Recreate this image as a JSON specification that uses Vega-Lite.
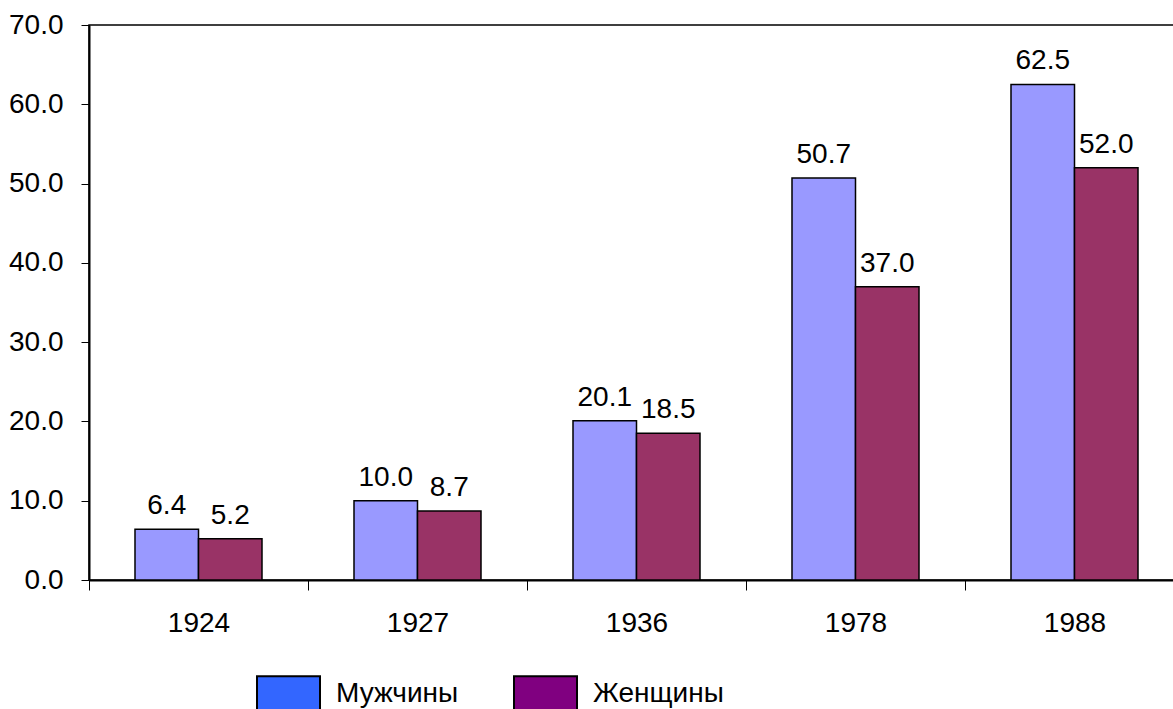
{
  "$schema": "https://vega.github.io/schema/vega-lite/v6.json",
  "width": 1095,
  "height": 555,
  "autosize": {"type": "none"},
  "padding": {"left": 89, "top": 25, "right": 0, "bottom": 129},
  "background": "white",
  "config": {
    "font": "Liberation Sans",
    "view": {"stroke": "black", "strokeWidth": 1.5}
  },
  "data": {
    "values": [
      {"year": "1924", "sex": "Мужчины", "value": 6.4},
      {"year": "1924", "sex": "Женщины", "value": 5.2},
      {"year": "1927", "sex": "Мужчины", "value": 10.0},
      {"year": "1927", "sex": "Женщины", "value": 8.7},
      {"year": "1936", "sex": "Мужчины", "value": 20.1},
      {"year": "1936", "sex": "Женщины", "value": 18.5},
      {"year": "1978", "sex": "Мужчины", "value": 50.7},
      {"year": "1978", "sex": "Женщины", "value": 37.0},
      {"year": "1988", "sex": "Мужчины", "value": 62.5},
      {"year": "1988", "sex": "Женщины", "value": 52.0}
    ]
  },
  "encoding": {
    "x": {
      "field": "year",
      "type": "nominal",
      "scale": {"paddingInner": 0, "paddingOuter": 0},
      "axis": {
        "title": null,
        "labelAngle": 0,
        "tickBand": "extent",
        "tickSize": 10,
        "tickColor": "black",
        "tickWidth": 1,
        "domainColor": "black",
        "domainWidth": 2,
        "labelFontSize": 28,
        "labelColor": "black",
        "labelPadding": 19
      }
    },
    "xOffset": {
      "field": "sex",
      "type": "nominal",
      "sort": ["Мужчины", "Женщины"],
      "scale": {"paddingInner": 0, "paddingOuter": 0.7244}
    },
    "y": {
      "field": "value",
      "type": "quantitative",
      "scale": {"domain": [0, 70], "nice": false},
      "axis": {
        "title": null,
        "values": [0, 10, 20, 30, 40, 50, 60, 70],
        "format": ".1f",
        "grid": false,
        "tickSize": 8,
        "tickColor": "black",
        "tickWidth": 1,
        "domainColor": "black",
        "domainWidth": 2,
        "labelFontSize": 28,
        "labelColor": "black",
        "labelPadding": 18
      }
    }
  },
  "layer": [
    {
      "mark": {"type": "bar", "opacity": 0},
      "encoding": {
        "color": {
          "field": "sex",
          "type": "nominal",
          "scale": {"domain": ["Мужчины", "Женщины"], "range": ["#3366FF", "#800080"]},
          "legend": {
            "title": null,
            "orient": "none",
            "direction": "horizontal",
            "legendX": 167,
            "legendY": 636,
            "padding": 0,
            "symbolType": "M-1,-0.55H1V0.55H-1Z",
            "symbolSize": 3969,
            "symbolStrokeColor": "black",
            "symbolStrokeWidth": 2,
            "symbolOpacity": 1,
            "symbolFillOpacity": 1,
            "labelFontSize": 28,
            "labelColor": "black",
            "labelOffset": 15,
            "columnPadding": 51
          }
        }
      }
    },
    {
      "mark": {"type": "bar", "stroke": "black", "strokeWidth": 1.5},
      "encoding": {
        "fill": {
          "field": "sex",
          "type": "nominal",
          "scale": {"domain": ["Мужчины", "Женщины"], "range": ["#9999FF", "#993366"]},
          "legend": null
        }
      }
    },
    {
      "mark": {"type": "text", "dy": -15, "fontSize": 28, "baseline": "alphabetic", "color": "black"},
      "encoding": {
        "text": {"field": "value", "type": "quantitative", "format": ".1f"}
      }
    }
  ]
}
